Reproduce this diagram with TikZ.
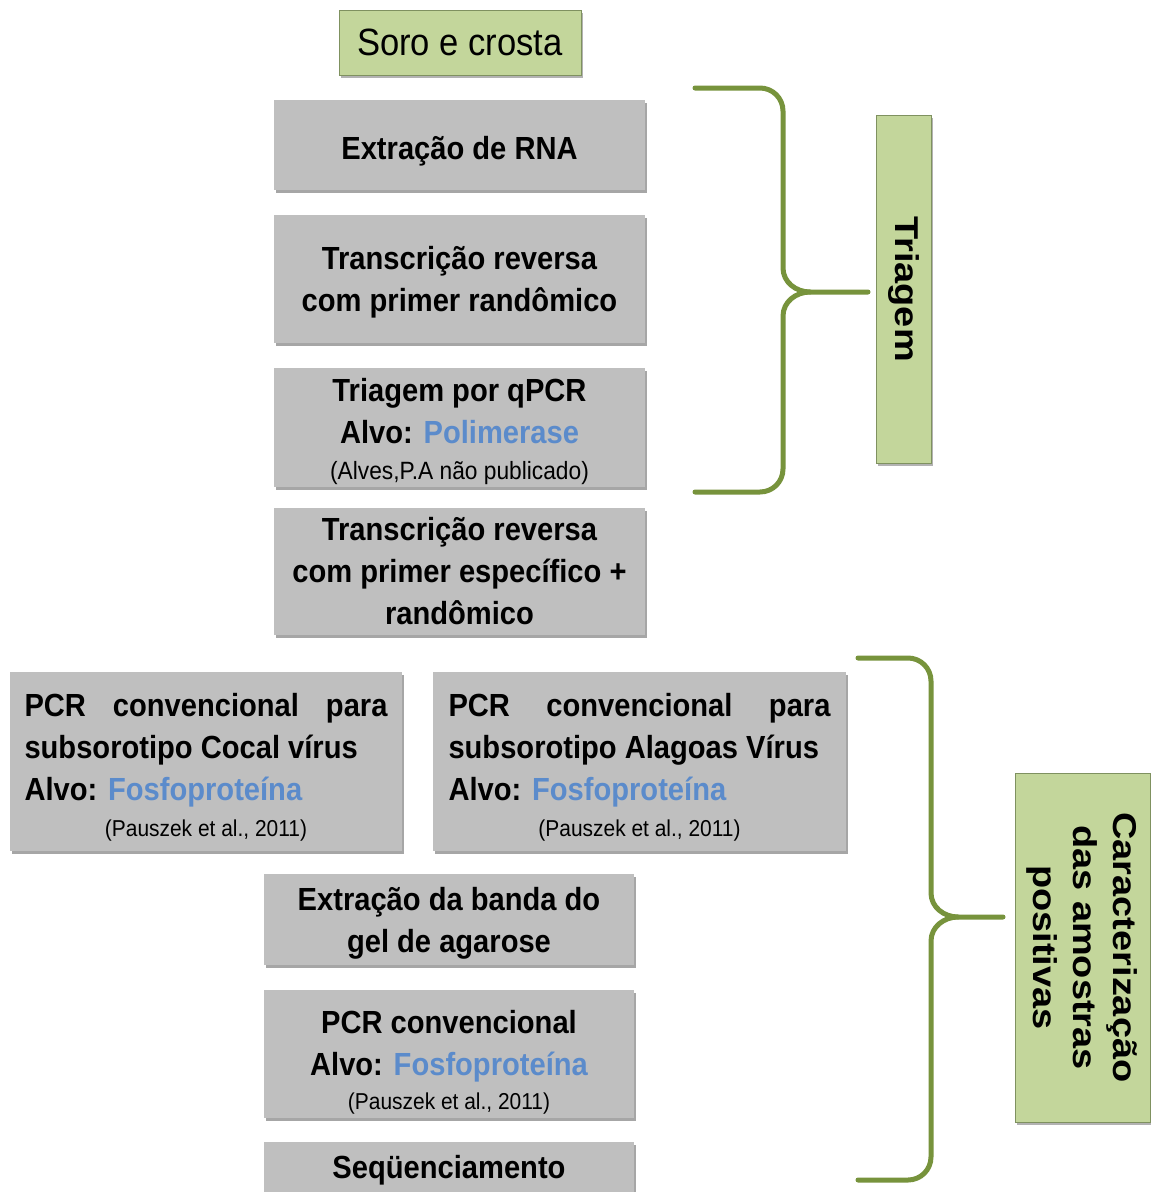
\documentclass[tikz,border=0pt]{standalone}
\usepackage{fontspec}
\setmainfont{Liberation Sans}[FakeStretch=0.91]
\newfontfamily\vfont{Liberation Sans}[FakeStretch=1.15]
\usetikzlibrary{shadows}
\definecolor{boxgray}{HTML}{BFBFBF}
\definecolor{boxgreen}{HTML}{C3D69B}
\definecolor{greenedge}{HTML}{7F9160}
\definecolor{bracegreen}{HTML}{77933C}
\definecolor{alvoblue}{HTML}{5B8BCB}
\newcommand{\mainf}{\fontsize{32}{42}\selectfont\bfseries}
\newcommand{\refa}{\fontsize{25}{30}\selectfont\mdseries}
\newcommand{\refb}{\fontsize{23}{30}\selectfont\mdseries}
\tikzset{
  graybox/.style={fill=boxgray, inner sep=0pt,
    drop shadow={shadow xshift=2pt, shadow yshift=-3pt, opacity=0.35, fill=black}},
  txt/.style={inner sep=0pt, align=center, font=\mainf},
  greenbox/.style={fill=boxgreen, draw=greenedge, line width=1pt, inner sep=0pt, align=center,
    drop shadow={shadow xshift=2pt, shadow yshift=-3pt, opacity=0.3, fill=black}},
  bracepath/.style={draw=bracegreen, line width=5pt, line cap=round, line join=round}
}
\begin{document}
\begin{tikzpicture}[x=1pt,y=-1pt]
\useasboundingbox (0,0) rectangle (1151,1192);
\clip (0,0) rectangle (1151,1192);
\fill[white] (0,0) rectangle (1151,1192);

\node[greenbox, minimum width=242pt, minimum height=65pt, font=\fontsize{38}{44}\selectfont] (soro) at (460,42.5) {Soro e crosta};

\node[graybox, minimum width=371pt, minimum height=90pt] (rna) at (459.5,145) {};
\node[txt] (rnat) at ([yshift=-6pt]rna.center) {Extração de RNA};

\node[graybox, minimum width=371pt, minimum height=128pt] (rt1) at (459.5,279) {};
\node[txt] (rt1t) at ([yshift=-3pt]rt1.center) {Transcrição reversa\\com primer randômico};

\node[graybox, minimum width=371pt, minimum height=119pt] (qpcr) at (459.5,427) {};
\node[txt] (qpcrt) at ([yshift=-4pt]qpcr.center) {Triagem por qPCR\\Alvo: \textcolor{alvoblue}{Polimerase}\\[-6pt]{\refa (Alves,P.A não publicado)}};

\node[graybox, minimum width=371pt, minimum height=127pt] (rt2) at (459.5,571.5) {};
\node[txt] (rt2t) at (rt2.center) {Transcrição reversa\\com primer específico +\\randômico};

\node[graybox, minimum width=392pt, minimum height=179pt] (pcrc) at (206,761.5) {};
\node[txt, align=left] (pcrct) at ([yshift=-6pt]pcrc.center)
  {\makebox[363pt][s]{PCR convencional para}\\subsorotipo Cocal vírus\\Alvo: \textcolor{alvoblue}{Fosfoproteína}\\[-6pt]\makebox[363pt]{\refb (Pauszek et al., 2011)}};

\node[graybox, minimum width=413pt, minimum height=179pt] (pcra) at (639.5,761.5) {};
\node[txt, align=left] (pcrat) at ([yshift=-6pt]pcra.center)
  {\makebox[382pt][s]{PCR convencional para}\\subsorotipo Alagoas Vírus\\Alvo: \textcolor{alvoblue}{Fosfoproteína}\\[-6pt]\makebox[382pt]{\refb (Pauszek et al., 2011)}};

\node[graybox, minimum width=370pt, minimum height=91pt] (banda) at (449,919.5) {};
\node[txt] (bandat) at ([yshift=-4pt]banda.center) {Extração da banda do\\gel de agarose};

\node[graybox, minimum width=370pt, minimum height=128pt] (pcr) at (449,1054) {};
\node[txt] (pcrt) at ([yshift=-8pt]pcr.center) {PCR convencional\\Alvo: \textcolor{alvoblue}{Fosfoproteína}\\[-8pt]{\refb (Pauszek et al., 2011)}};

\node[graybox, minimum width=370pt, minimum height=50pt] (seq) at (449,1167) {};
\node[txt] (seqt) at ([yshift=-3pt]seq.center) {Seqüenciamento};

\node[greenbox, rotate=-90, minimum width=348pt, minimum height=55pt, font=\vfont\bfseries\fontsize{33}{40}\selectfont] (tri) at (903.5,289) {Triagem};
\node[greenbox, rotate=-90, minimum width=349pt, minimum height=135pt, font=\vfont\bfseries\fontsize{33}{40}\selectfont] (car) at (1082.5,947.5) {Caracterização\\das amostras\\positivas};

% brace 1
\coordinate (b1t) at (695,88);
\coordinate (b1b) at (695,492);
\coordinate (b1c) at (810,292);
\coordinate (b1tip) at (868,292);
\draw[bracepath] (b1t) -- (760,88) to[out=0,in=90] (783,111) -- (783,268) to[out=-90,in=180] (b1c) -- (b1tip);
\draw[bracepath] (b1c) to[out=180,in=90] (783,316) -- (783,469) to[out=-90,in=0] (760,492) -- (b1b);

% brace 2
\coordinate (b2t) at (858,658);
\coordinate (b2b) at (858,1180);
\coordinate (b2c) at (958,917);
\coordinate (b2tip) at (1003,917);
\draw[bracepath] (b2t) -- (908,658) to[out=0,in=90] (931,681) -- (931,893) to[out=-90,in=180] (b2c) -- (b2tip);
\draw[bracepath] (b2c) to[out=180,in=90] (931,941) -- (931,1157) to[out=-90,in=0] (908,1180) -- (b2b);
\end{tikzpicture}
\end{document}
